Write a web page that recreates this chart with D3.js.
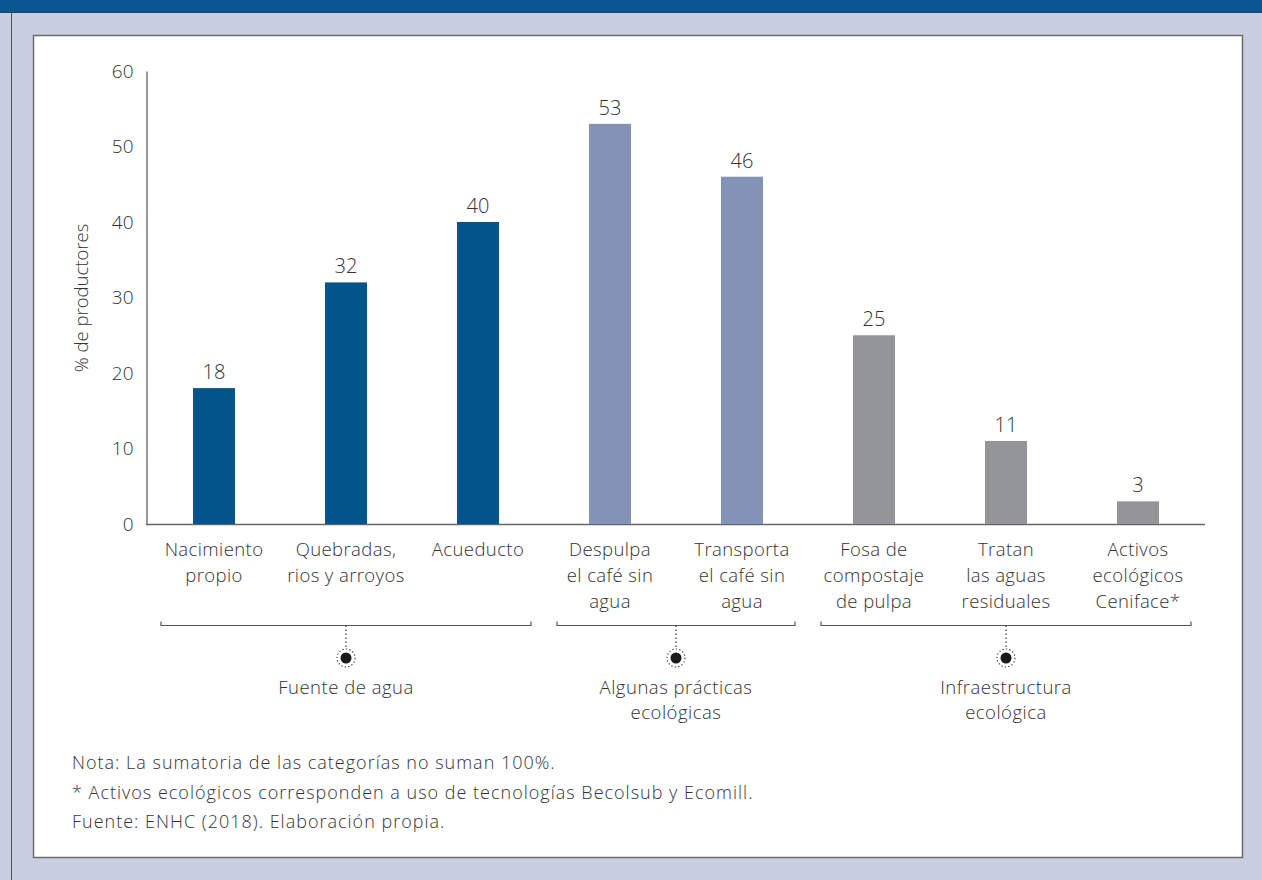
<!DOCTYPE html>
<html><head><meta charset="utf-8">
<script src="https://cdn.jsdelivr.net/npm/d3@7"></script>
<style>
html,body{margin:0;padding:0;background:#c9cfe1;}
svg{display:block;}
text{font-family:"Open Sans",Lato,sans-serif;fill:#333;font-weight:300;}
</style></head><body>
<svg id="c" width="1262" height="880"></svg>
<script>
const categories = [
  ["Nacimiento","propio"],
  ["Quebradas,","rios y arroyos"],
  ["Acueducto"],
  ["Despulpa","el café sin","agua"],
  ["Transporta","el café sin","agua"],
  ["Fosa de","compostaje","de pulpa"],
  ["Tratan","las aguas","residuales"],
  ["Activos","ecológicos","Ceniface*"]
];
const values = [18, 32, 40, 53, 46, 25, 11, 3];
const groupOf = [0, 0, 0, 1, 1, 2, 2, 2];
const groupNames = [["Fuente de agua"], ["Algunas prácticas","ecológicas"], ["Infraestructura","ecológica"]];
const groupColors = ["#02548a", "#8393b7", "#939598"];
const yTicks = [0, 10, 20, 30, 40, 50, 60];
const yTitle = "% de productores";
const notes = [
  "Nota: La sumatoria de las categorías no suman 100%.",
  "* Activos ecológicos corresponden a uso de tecnologías Becolsub y Ecomill.",
  "Fuente: ENHC (2018). Elaboración propia."
];

const svg = d3.select("#c");
svg.append("rect").attr("x",0).attr("y",0).attr("width",1262).attr("height",12).attr("fill","#0b5590");
svg.append("line").attr("x1",0).attr("x2",1262).attr("y1",12.5).attr("y2",12.5).attr("stroke","#2d3e55").attr("stroke-width",1);
svg.append("line").attr("x1",11.5).attr("x2",11.5).attr("y1",12).attr("y2",880).attr("stroke","#555").attr("stroke-width",1);
svg.append("rect").attr("x",33.5).attr("y",35.5).attr("width",1209).attr("height",822)
  .attr("fill","#fff").attr("stroke","#6b6b6b").attr("stroke-width",1.5);

const idx = d3.range(values.length);
const x = d3.scaleBand().domain(idx).range([148, 1204]).paddingInner(0.682).paddingOuter(0.341);
const y = d3.scaleLinear().domain([0, 60]).range([524, 71]);

const yAxis = d3.axisLeft(y).tickValues(yTicks).tickSize(0).tickPadding(13);
const gy = svg.append("g").attr("transform","translate(146.5,0)").call(yAxis);
gy.select(".domain").attr("stroke","#555").attr("stroke-width",1.2);
gy.selectAll("text").attr("font-family","'Open Sans',Lato,sans-serif").attr("font-weight",300).attr("font-size",19).attr("fill","#333");

svg.append("line").attr("x1",146).attr("x2",1205).attr("y1",y(0)+0.5).attr("y2",y(0)+0.5).attr("stroke","#666").attr("stroke-width",1.3);

svg.append("text").attr("transform","translate(88,298) rotate(-90)").attr("text-anchor","middle")
  .attr("font-size",18.5).attr("font-weight",400).attr("fill","#3a3a3a")
  .attr("font-family","'Liberation Sans',Arial,sans-serif").text(yTitle);

svg.append("g").selectAll("rect").data(idx).join("rect")
  .attr("x", i => x(i)).attr("width", x.bandwidth())
  .attr("y", i => y(values[i])).attr("height", i => y(0) - y(values[i]))
  .attr("fill", i => groupColors[groupOf[i]]);

svg.append("g").selectAll("text").data(idx).join("text")
  .attr("x", i => x(i) + x.bandwidth()/2).attr("y", i => y(values[i]) - 9)
  .attr("text-anchor","middle").attr("font-size",20).text(i => values[i]);

const cl = svg.append("g").selectAll("text").data(idx).join("text")
  .attr("text-anchor","middle").attr("font-size",18.5).attr("letter-spacing",0.4)
  .attr("transform", i => `translate(${x(i)+x.bandwidth()/2},556)`);
cl.selectAll("tspan").data(i => categories[i]).join("tspan")
  .attr("x",0).attr("y",(d,j)=>j*26).text(d=>d);

const groups = groupNames.map((n,g) => {
  const members = idx.filter(i => groupOf[i] === g);
  const x0 = x(members[0]) - x.step()*x.paddingInner()/2 + 13;
  const x1 = x(members[members.length-1]) + x.bandwidth() + x.step()*x.paddingInner()/2 - 13;
  return {n, x0, x1, c: (x0 + x1)/2};
});
const gb = svg.append("g").selectAll("g").data(groups).join("g");
const by = 625.5;
gb.append("path").attr("d", d => `M${d.x0},${by-4}V${by}H${d.x1}V${by-4}`)
  .attr("fill","none").attr("stroke","#555").attr("stroke-width",1.2);
gb.append("line").attr("x1",d=>d.c).attr("x2",d=>d.c).attr("y1",by).attr("y2",649)
  .attr("stroke","#333").attr("stroke-width",1.2).attr("stroke-dasharray","1.5,2.5");
gb.append("circle").attr("cx",d=>d.c).attr("cy",658).attr("r",9)
  .attr("fill","none").attr("stroke","#333").attr("stroke-width",1.1).attr("stroke-dasharray","1.3,2.2");
gb.append("circle").attr("cx",d=>d.c).attr("cy",658).attr("r",5.5).attr("fill","#1a1a1a");
const gt = gb.append("text").attr("text-anchor","middle").attr("font-size",18.5).attr("letter-spacing",0.5)
  .attr("transform", d => `translate(${d.c},694)`);
gt.selectAll("tspan").data(d => d.n).join("tspan").attr("x",0).attr("y",(d,j)=>j*25).text(d=>d);

svg.append("g").selectAll("text").data(notes).join("text")
  .attr("x",72).attr("y",(d,i)=>769 + i*29.5).attr("font-size",18).attr("letter-spacing",1.0).text(d=>d);
</script>
</body></html>
